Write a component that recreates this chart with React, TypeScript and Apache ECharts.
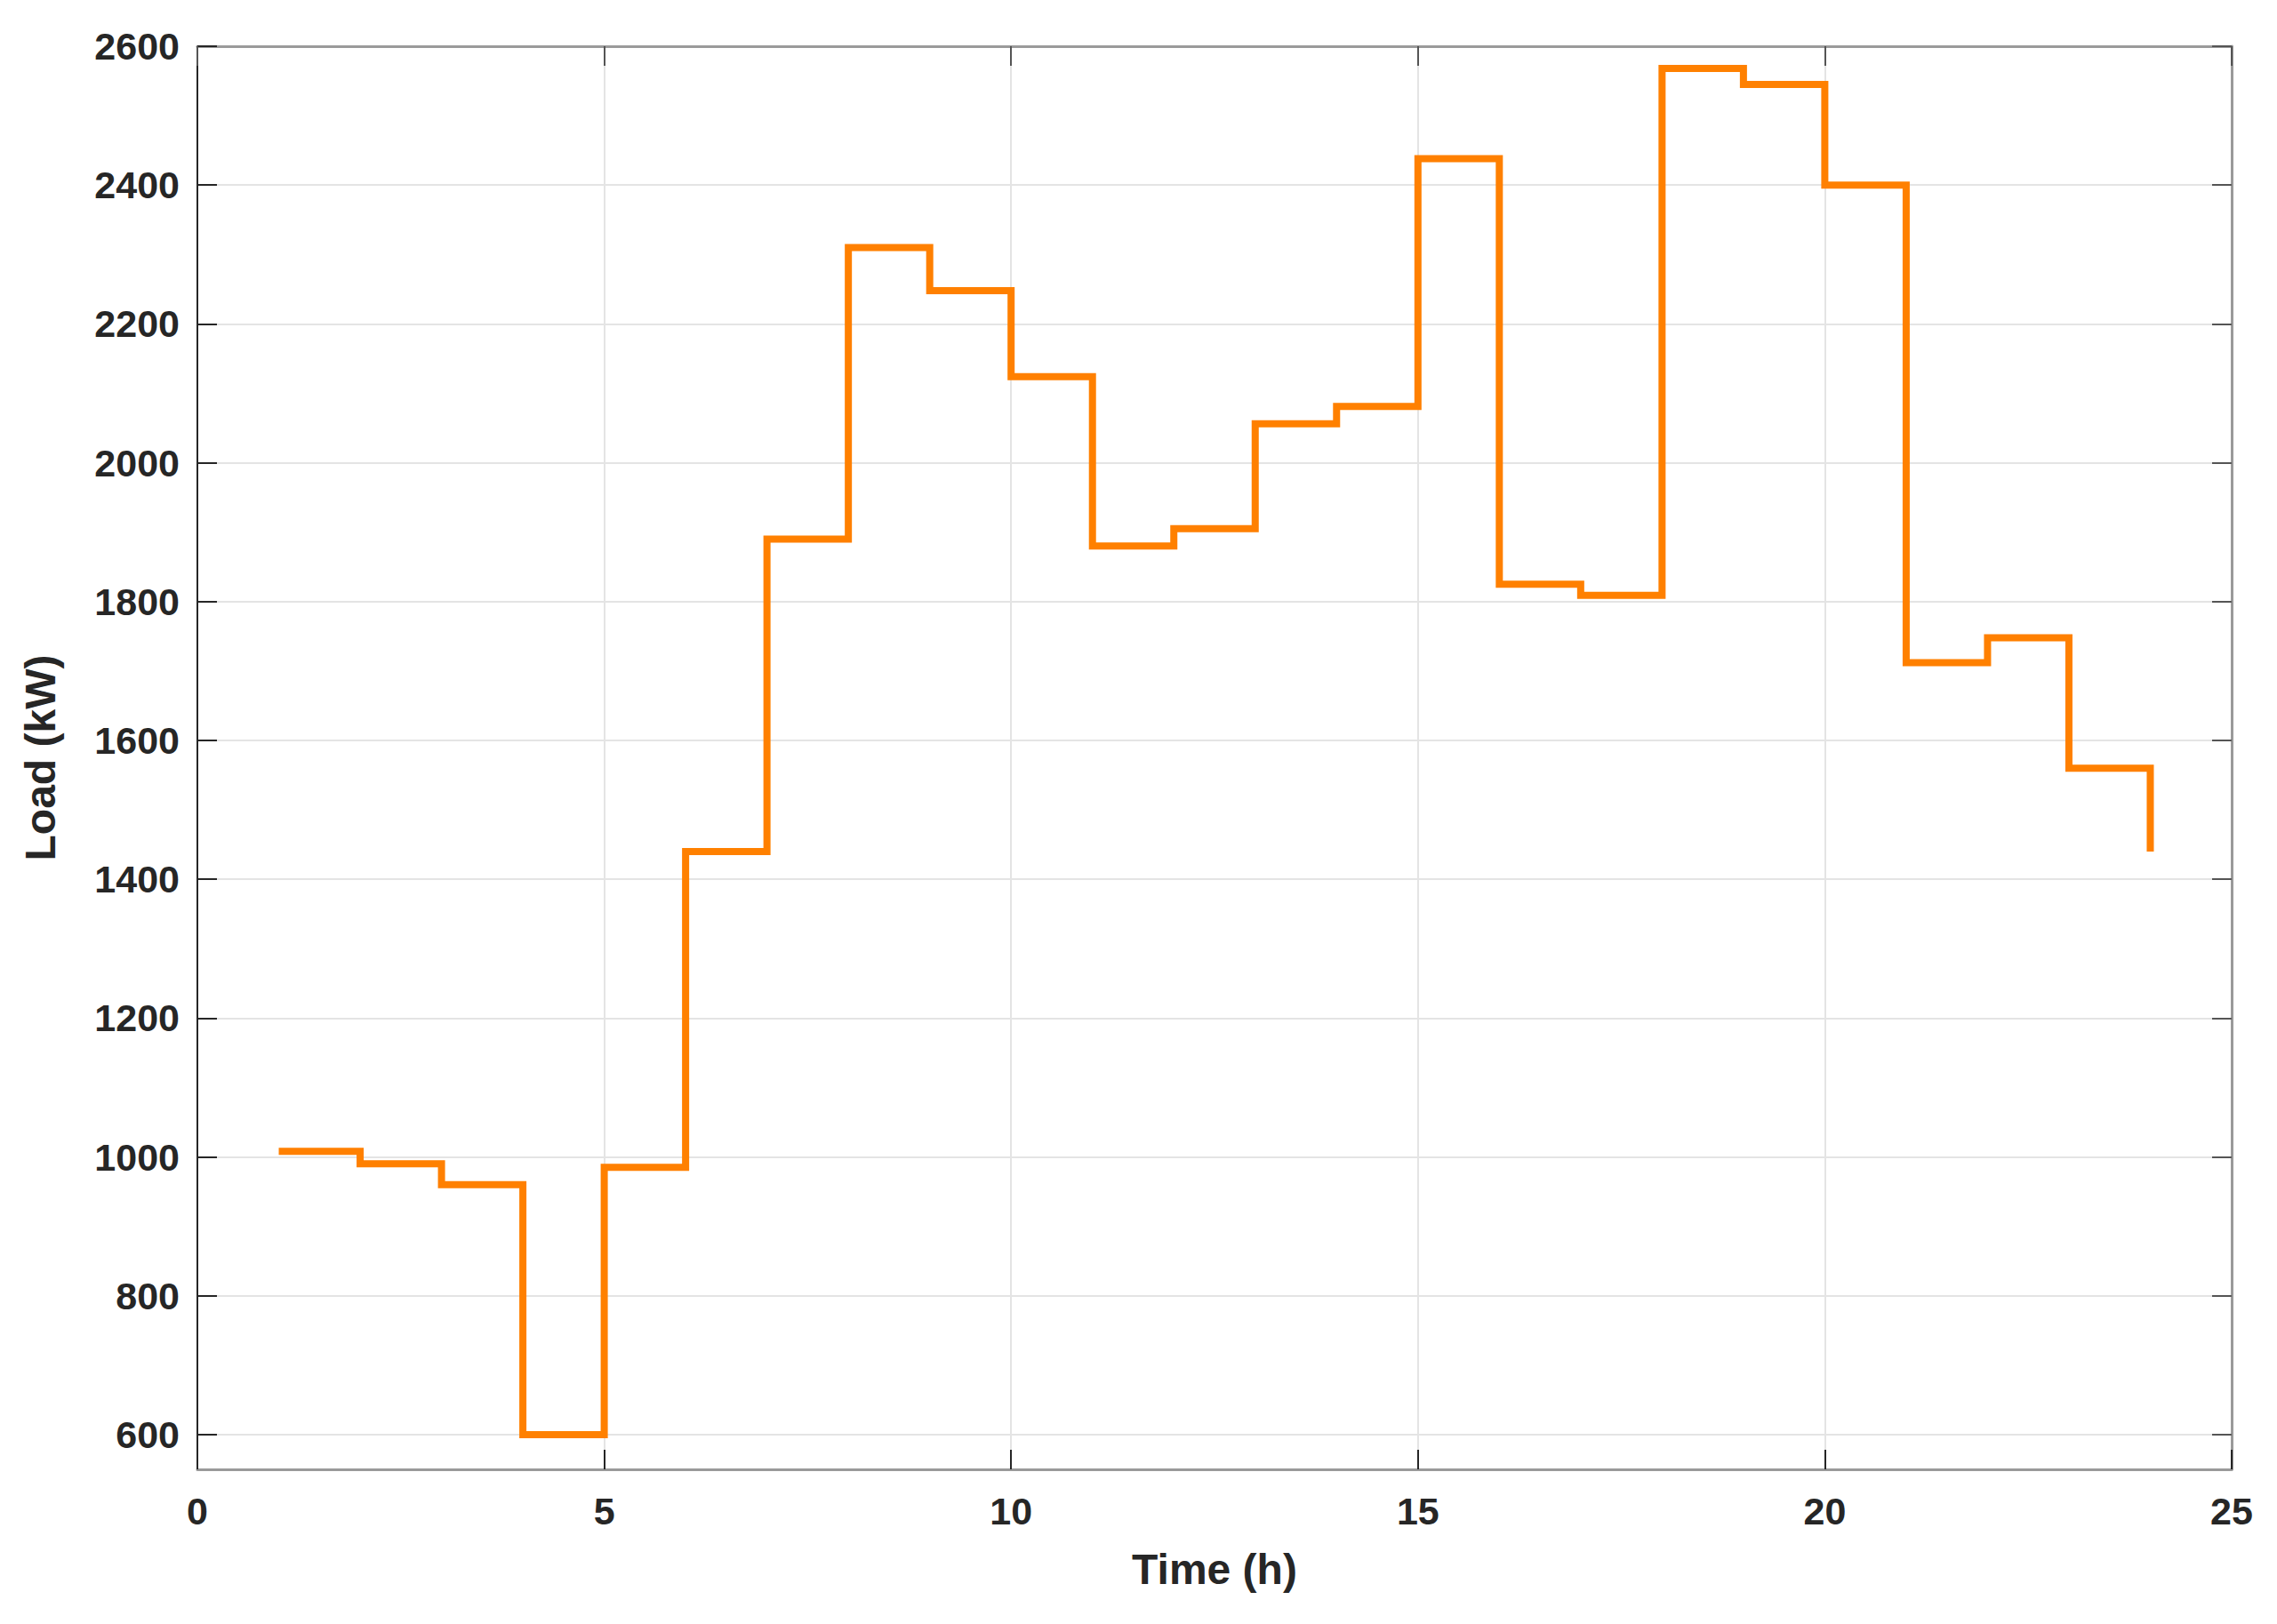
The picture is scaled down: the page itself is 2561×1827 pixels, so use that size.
import React, { useEffect, useRef } from "react";
import * as echarts from "echarts";

// Hourly load (kW), stairs plot
const hours: number[] = [1, 2, 3, 4, 5, 6, 7, 8, 9, 10, 11, 12, 13, 14, 15, 16, 17, 18, 19, 20, 21, 22, 23, 24];
const load: number[] = [
  1008, 990, 960, 600, 985, 1440, 1890, 2310, 2248, 2124, 1880, 1905,
  2056, 2081, 2438, 1825, 1809, 2568, 2545, 2400, 1712, 1748, 1560, 1440,
];
const yTicks: number[] = [600, 800, 1000, 1200, 1400, 1600, 1800, 2000, 2200, 2400, 2600];
const xTicks: number[] = [0, 5, 10, 15, 20, 25];

const FONT = "'Liberation Sans', Arial, Helvetica, sans-serif";
const TXT = "#262626";
const GRID = "#e4e4e4";
const BOX = "#9a9a9a";

export default function App() {
  const ref = useRef<HTMLDivElement>(null);
  useEffect(() => {
    if (!ref.current) return;
    const chart = echarts.init(ref.current, null, { renderer: "svg" });
    const labelStyle = { fontFamily: FONT, fontWeight: "bold" as const, fontSize: 43, color: TXT };
    const nameStyle = { fontFamily: FONT, fontWeight: "bold" as const, fontSize: 48, color: TXT };
    chart.setOption({
      animation: false,
      backgroundColor: "#ffffff",
      grid: { left: 222, right: 51, top: 52, bottom: 174, containLabel: false },
      xAxis: [
        {
          type: "value",
          position: "bottom",
          min: xTicks[0],
          max: xTicks[xTicks.length - 1],
          interval: 5,
          name: "Time (h)",
          nameLocation: "middle",
          nameGap: 88,
          nameTextStyle: nameStyle,
          axisLine: { show: true, onZero: false, lineStyle: { color: BOX, width: 3 } },
          axisTick: { show: true, inside: true, length: 22, lineStyle: { color: TXT, width: 2 } },
          axisLabel: { ...labelStyle, margin: 25 },
          splitLine: { show: true, lineStyle: { color: GRID, width: 2 } },
        },
        {
          type: "value",
          position: "top",
          min: xTicks[0],
          max: xTicks[xTicks.length - 1],
          interval: 5,
          axisLine: { show: true, onZero: false, lineStyle: { color: BOX, width: 3 } },
          axisTick: { show: true, inside: true, length: 22, lineStyle: { color: "#555555", width: 2 } },
          axisLabel: { show: false },
          splitLine: { show: false },
        },
      ],
      yAxis: [
        {
          type: "value",
          position: "left",
          min: 550,
          max: 2600,
          splitNumber: 10,
          name: "Load (kW)",
          nameLocation: "middle",
          nameGap: 153,
          nameRotate: 90,
          nameTextStyle: nameStyle,
          axisLine: { show: true, onZero: false, lineStyle: { color: TXT, width: 2 } },
          axisTick: { show: true, inside: true, length: 22, customValues: yTicks, lineStyle: { color: TXT, width: 2 } },
          axisLabel: {
            ...labelStyle,
            margin: 20,
            customValues: yTicks,
            formatter: (v: number) => (v % 200 === 0 ? String(v) : ""),
          },
          splitLine: { show: true, lineStyle: { color: GRID, width: 2 } },
        },
        {
          type: "value",
          position: "right",
          min: 550,
          max: 2600,
          splitNumber: 10,
          axisLine: { show: true, onZero: false, lineStyle: { color: BOX, width: 3 } },
          axisTick: { show: true, inside: true, length: 22, customValues: yTicks, lineStyle: { color: "#555555", width: 2 } },
          axisLabel: { show: false },
          splitLine: { show: false },
        },
      ],
      series: [
        {
          type: "line",
          xAxisIndex: 0,
          yAxisIndex: 0,
          step: "end",
          showSymbol: false,
          symbol: "none",
          data: hours.map((h, i) => [h, load[i]]),
          lineStyle: { color: "#ff8000", width: 8, cap: "butt", join: "miter" },
          z: 5,
        },
      ],
    });
    return () => chart.dispose();
  }, []);
  return (
    <div
      ref={ref}
      style={{ position: "absolute", left: 0, top: 0, width: 2561, height: 1827, background: "#fff" }}
    />
  );
}
